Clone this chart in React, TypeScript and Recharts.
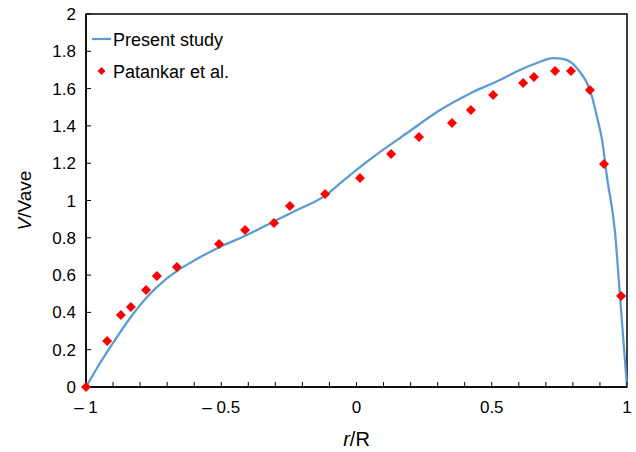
import React from "react";
import { ComposedChart, Line, Scatter, XAxis, YAxis, ReferenceArea, Legend, Label } from "recharts";

// Present study (continuous profile)
const presentX = [-1, -0.959, -0.9, -0.837, -0.774, -0.701, -0.653, -0.616, -0.505, -0.405, -0.309, -0.22, -0.109, -0.061, 0.061, 0.187, 0.309, 0.431, 0.53, 0.604, 0.667, 0.726, 0.763, 0.797, 0.826, 0.852, 0.871, 0.889, 0.908, 0.926, 0.956, 0.974, 1];
const presentY = [0, 0.102, 0.236, 0.37, 0.483, 0.582, 0.632, 0.665, 0.751, 0.815, 0.885, 0.949, 1.033, 1.092, 1.233, 1.362, 1.485, 1.582, 1.646, 1.7, 1.737, 1.764, 1.759, 1.737, 1.689, 1.63, 1.555, 1.448, 1.324, 1.126, 0.826, 0.488, 0];

// Patankar et al. (markers)
const patankarX = [-1, -0.922, -0.871, -0.834, -0.778, -0.738, -0.664, -0.508, -0.412, -0.305, -0.246, -0.116, 0.013, 0.128, 0.231, 0.353, 0.423, 0.505, 0.616, 0.656, 0.734, 0.793, 0.863, 0.915, 0.978];
const patankarY = [0, 0.247, 0.386, 0.429, 0.52, 0.595, 0.643, 0.767, 0.842, 0.879, 0.97, 1.035, 1.121, 1.249, 1.34, 1.416, 1.485, 1.566, 1.63, 1.662, 1.694, 1.694, 1.592, 1.196, 0.488];

const xTicks = [-1, -0.9, -0.8, -0.7, -0.6, -0.5, -0.4, -0.3, -0.2, -0.1, 0, 0.1, 0.2, 0.3, 0.4, 0.5, 0.6, 0.7, 0.8, 0.9, 1];
const xTickLabels: Record<string, string> = { "-1": "\u2013 1", "-0.5": "\u2013 0.5", "0": "0", "0.5": "0.5", "1": "1" };
const yTicks = [0, 0.2, 0.4, 0.6, 0.8, 1, 1.2, 1.4, 1.6, 1.8, 2];

const presentData = presentX.map((x, i) => ({ x, y: presentY[i] }));
const patankarData = patankarX.map((x, i) => ({ x, y: patankarY[i] }));

const LINE_COLOR = "#5B9BD5";
const MARK_COLOR = "#FF0000";
const FONT = "'Liberation Sans', Arial, sans-serif";

const Diamond = (props: any) => {
	const { cx, cy } = props;
	const r = 5;
	return <path d={`M${cx},${cy - r}L${cx + r},${cy}L${cx},${cy + r}L${cx - r},${cy}Z`} fill={MARK_COLOR} />;
};

const LegendBox = () => (
	<svg width={200} height={70} style={{ fontFamily: FONT, display: "block" }}>
		<line x1={6} x2={25} y1={19} y2={19} stroke={LINE_COLOR} strokeWidth={2.25} />
		<text x={27} y={26} fontSize={18} fill="#000">Present study</text>
		<path d="M15.5,47L19.5,51L15.5,55L11.5,51Z" fill={MARK_COLOR} />
		<text x={27} y={58} fontSize={18} fill="#000">Patankar et al.</text>
	</svg>
);

export default function App() {
	return (
		<div style={{ position: "absolute", left: 0, top: 0, fontFamily: FONT }}>
			<ComposedChart width={636} height={452} margin={{ top: 14, right: 9, left: 0, bottom: 0 }}>
				<XAxis
					type="number"
					dataKey="x"
					domain={[-1, 1]}
					ticks={xTicks}
					interval={0}
					height={65}
					tickSize={-5}
					tickMargin={19}
					tickFormatter={(v: number) => xTickLabels[String(Math.round(v * 10) / 10)] ?? ""}
					tick={{ fill: "#000", fontSize: 17 }}
					axisLine={{ stroke: "#000", strokeWidth: 1.5 }}
					tickLine={{ stroke: "#000", strokeWidth: 1 }}
				>
					<Label
						content={({ viewBox }: any) => (
							<text x={viewBox.x + viewBox.width / 2} y={viewBox.y + 59} textAnchor="middle" fontSize={20} fill="#000">
								<tspan fontStyle="italic">r</tspan>
								<tspan>/R</tspan>
							</text>
						)}
					/>
				</XAxis>
				<YAxis
					type="number"
					dataKey="y"
					domain={[0, 2]}
					ticks={yTicks}
					interval={0}
					width={86}
					tickSize={-5}
					tickMargin={15}
					tickFormatter={(v: number) => String(Math.round(v * 10) / 10)}
					tick={{ fill: "#000", fontSize: 17 }}
					axisLine={{ stroke: "#000", strokeWidth: 1.5 }}
					tickLine={{ stroke: "#000", strokeWidth: 1 }}
				>
					<Label
						content={({ viewBox }: any) => {
							const cx = viewBox.x + 31;
							const cy = viewBox.y + viewBox.height / 2;
							return (
								<text x={cx} y={cy} textAnchor="middle" fontSize={19} fill="#000" transform={`rotate(-90 ${cx} ${cy})`}>
									<tspan fontStyle="italic">V</tspan>
									<tspan>/Vave</tspan>
								</text>
							);
						}}
					/>
				</YAxis>
				<ReferenceArea x1={-1} x2={1} y1={0} y2={2} fill="none" stroke="#000" strokeWidth={1.5} />
				<Line
					data={presentData}
					dataKey="y"
					type="monotone"
					stroke={LINE_COLOR}
					strokeWidth={2.25}
					dot={false}
					activeDot={false}
					isAnimationActive={false}
				/>
				<Scatter data={patankarData} dataKey="y" shape={Diamond} isAnimationActive={false} />
				<Legend
					layout="vertical"
					align="center"
					verticalAlign="middle"
					wrapperStyle={{ left: 86, top: 20, width: 200 }}
					content={() => <LegendBox />}
				/>
			</ComposedChart>
		</div>
	);
}
